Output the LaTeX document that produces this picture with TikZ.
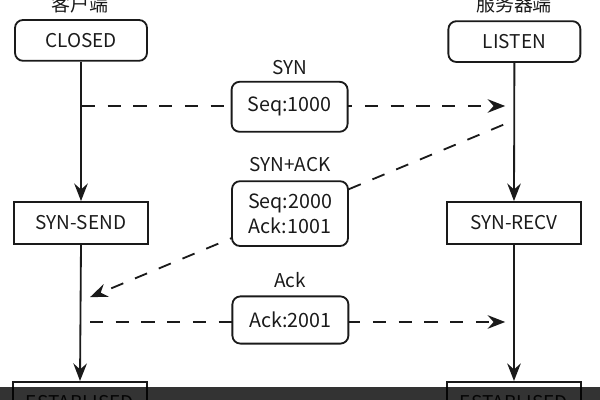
\documentclass[tikz,border=0pt]{standalone}
\usepackage{fontspec}
\setmainfont{Noto Sans CJK SC}
\usetikzlibrary{arrows.meta}
\definecolor{ink}{HTML}{1a1a1a}

\begin{document}
\begin{tikzpicture}[
    state/.style={draw=ink, line width=1.3pt, minimum width=3.35cm, minimum height=1.05cm, text=ink, font=\fontsize{13.5}{15}\selectfont},
    rstate/.style={state, rounded corners=0.2cm, minimum width=3.3cm, minimum height=1.02cm},
    msgbox/.style={draw=ink, line width=1.3pt, rounded corners=0.2cm, fill=white, minimum width=2.9cm, align=center, text=ink, font=\fontsize{14}{18}\selectfont},
    msgname/.style={text=ink, font=\fontsize{13.5}{15}\selectfont},
    flow/.style={draw=ink, line width=1.3pt, -{Stealth[length=0.44cm,width=0.34cm,inset=0.15cm]}},
    pkt/.style={flow, dash pattern=on 9.3pt off 9pt}
  ]
    \useasboundingbox (0,0) rectangle (15,-10);

    \node[msgname] at (2.0,-0.1) (client) {客户端};
    \node[msgname] at (12.85,-0.1) (server) {服务器端};

    \node[rstate] at (2.025,-1.01) (closed) {CLOSED};
    \node[rstate] at (12.86,-1.04) (listen) {LISTEN};
    \node[state] at (2.025,-5.575) (synsend) {SYN-SEND};
    \node[state] at (12.85,-5.575) (synrecv) {SYN-RECV};
    \node[state, anchor=north] at (2.0,-9.525) (estc) {ESTABLISED};
    \node[state, anchor=north] at (12.85,-9.525) (ests) {ESTABLISED};

    \draw[flow] (closed.south) -- (synsend.north);
    \draw[flow] (listen.south) -- (synrecv.north);
    \draw[flow] (synsend.south) -- (estc.north);
    \draw[flow] (synrecv.south) -- (ests.north);

    % packets
    \coordinate (syn0) at (2.05,-2.65);
    \coordinate (syn1) at (12.63,-2.65);
    \coordinate (sa0) at (12.58,-3.12);
    \coordinate (sa1) at (2.25,-7.43);
    \coordinate (ack0) at (2.25,-8.05);
    \coordinate (ack1) at (12.63,-8.05);
    \draw[pkt] (syn0) -- (syn1);
    \draw[pkt] (sa0) -- (sa1);
    \draw[pkt] (ack0) -- (ack1);

    \node[msgname] at (7.25,-1.68) (synname) {SYN};
    \node[msgbox, minimum height=1.25cm] at (7.24,-2.67) (syn) {Seq:1000};

    \node[msgname] at (7.25,-4.12) (saname) {SYN+ACK};
    \node[msgbox, minimum height=1.62cm] at (7.25,-5.34) (synack) {Seq:2000\\Ack:1001};

    \node[msgname] at (7.25,-7.0) (ackname) {Ack};
    \node[msgbox, minimum height=1.18cm] at (7.26,-8.0) (ack) {Ack:2001};

    \fill[black, opacity=0.8] (0,-9.675) rectangle (15,-10);
  \end{tikzpicture}
\end{document}
